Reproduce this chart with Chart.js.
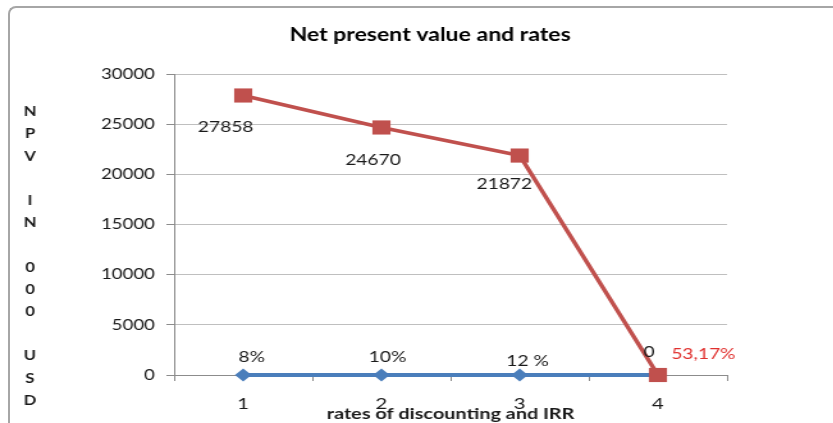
<!DOCTYPE html>
<html>
<head>
<meta charset="utf-8">
<script src="https://cdn.jsdelivr.net/npm/chart.js@4.4.1/dist/chart.umd.min.js"></script>
<style>
  html, body { margin: 0; padding: 0; background: #fff; }
  #page { position: relative; width: 833px; height: 423px; overflow: hidden; background: #fff; }
  #frame { position: absolute; left: 8px; top: 6px; width: 900px; height: 500px;
           border-top: 2px solid #a6a6a6; border-left: 2px solid #a6a6a6; border-top-left-radius: 8px; }
  #stretch { position: absolute; left: 0; top: 0; width: 651px; height: 423px;
             transform: scaleX(1.28); transform-origin: 0 0; }
  canvas { display: block; }
</style>
</head>
<body>
<div id="page">
  <div id="frame"></div>
  <div id="stretch"><canvas id="c" width="651" height="423"></canvas></div>
</div>
<script>
// ---- data ----
const chartTitle = 'Net present value and rates';
const xAxisTitle = 'rates of discounting and IRR';
const yAxisTitle = 'NPV IN 000 USD';
const categories = ['1', '2', '3', '4'];
const npvValues = [27858, 24670, 21872, 0];
const npvLabels = ['27858', '24670', '21872', '0'];
const rateValues = [0, 0, 0, 0];
const rateLabels = ['8%', '10%', '12 %', '53,17%'];
const yMin = 0, yMax = 30000, yStep = 5000;

const RED = '#C0504D';
const BLUE = '#4A7EBB';
const GRID = '#BFBFBF';
const AXIS = '#8C8C8C';
const TEXT = '#1a1a1a';

const labelPlugin = {
  id: 'pointTextLabels',
  afterDatasetsDraw(chart) {
    const ctx = chart.ctx;
    ctx.save();
    ctx.font = '15px Lato';
    ctx.textAlign = 'center';
    ctx.textBaseline = 'middle';
    const npvOff = [[-13.7, 32], [-6.6, 33], [-12, 28.5], [-7, -23]];
    const rateOff = [[6.6, -18], [4.7, -18], [6.2, -14], [35.5, -21]];
    const m0 = chart.getDatasetMeta(0);
    m0.data.forEach((p, i) => {
      ctx.fillStyle = TEXT;
      ctx.fillText(npvLabels[i], p.x + npvOff[i][0], p.y + npvOff[i][1]);
    });
    const m1 = chart.getDatasetMeta(1);
    m1.data.forEach((p, i) => {
      ctx.fillStyle = i === rateLabels.length - 1 ? '#E0302E' : TEXT;
      ctx.fillText(rateLabels[i], p.x + rateOff[i][0], p.y + rateOff[i][1]);
    });
    // stacked y-axis title
    ctx.font = 'bold 13px Lato';
    ctx.fillStyle = TEXT;
    yAxisTitle.split('').forEach((ch, i) => {
      if (ch.trim()) ctx.fillText(ch, 23.4, 112 + 22.2 * i);
    });
    ctx.restore();
  }
};

new Chart(document.getElementById('c'), {
  type: 'line',
  data: {
    labels: categories,
    datasets: [
      {
        label: 'NPV',
        data: npvValues,
        yAxisID: 'y',
        borderColor: RED,
        backgroundColor: RED,
        borderWidth: 3.5,
        pointStyle: 'rect',
        pointRadius: 10,
        pointHoverRadius: 10,
        pointBackgroundColor: RED,
        pointBorderColor: RED,
        pointBorderWidth: 0,
        tension: 0,
        clip: false
      },
      {
        label: 'Rates',
        data: rateValues,
        yAxisID: 'y',
        borderColor: BLUE,
        backgroundColor: BLUE,
        borderWidth: 4,
        pointStyle: 'rectRot',
        pointRadius: 6.5,
        pointHoverRadius: 6.5,
        pointBackgroundColor: BLUE,
        pointBorderColor: BLUE,
        pointBorderWidth: 0,
        tension: 0,
        clip: false
      }
    ]
  },
  options: {
    responsive: false,
    animation: false,
    devicePixelRatio: 1,
    layout: { padding: { left: 40, right: 19, top: 0, bottom: 0 } },
    plugins: {
      legend: { display: false },
      tooltip: { enabled: false },
      title: {
        display: true,
        text: chartTitle,
        color: '#000',
        font: { family: 'Lato', size: 18, weight: 'bold' },
        padding: { top: 24.2, bottom: 28.2 }
      }
    },
    scales: {
      x: {
        type: 'category',
        offset: true,
        afterFit(s) { s.height = 48; },
        grid: { offset: true, drawOnChartArea: false, drawTicks: true, tickLength: 6, color: AXIS },
        border: { color: AXIS, width: 1 },
        ticks: { color: TEXT, font: { family: 'Lato', size: 16 }, padding: 13, maxRotation: 0 },
        title: { display: true, text: xAxisTitle, color: TEXT,
                 font: { family: 'Lato', size: 15.5, weight: 'bold' }, padding: { top: 0, bottom: 0 } }
      },
      y: {
        position: 'left',
        min: yMin, max: yMax,
        afterFit(s) { s.width = 96; },
        grid: { color: GRID, drawTicks: true, tickLength: 6, tickColor: AXIS },
        border: { color: AXIS, width: 1 },
        ticks: { stepSize: yStep, color: TEXT, font: { family: 'Lato', size: 14.5 }, padding: 9,
                 callback: (v) => String(v) }
      },
      spacer: {
        position: 'right',
        display: true,
        afterFit(s) { s.width = 64; },
        grid: { display: false, drawOnChartArea: false },
        border: { display: false },
        ticks: { display: false }
      }
    }
  },
  plugins: [labelPlugin]
});
</script>
</body>
</html>
